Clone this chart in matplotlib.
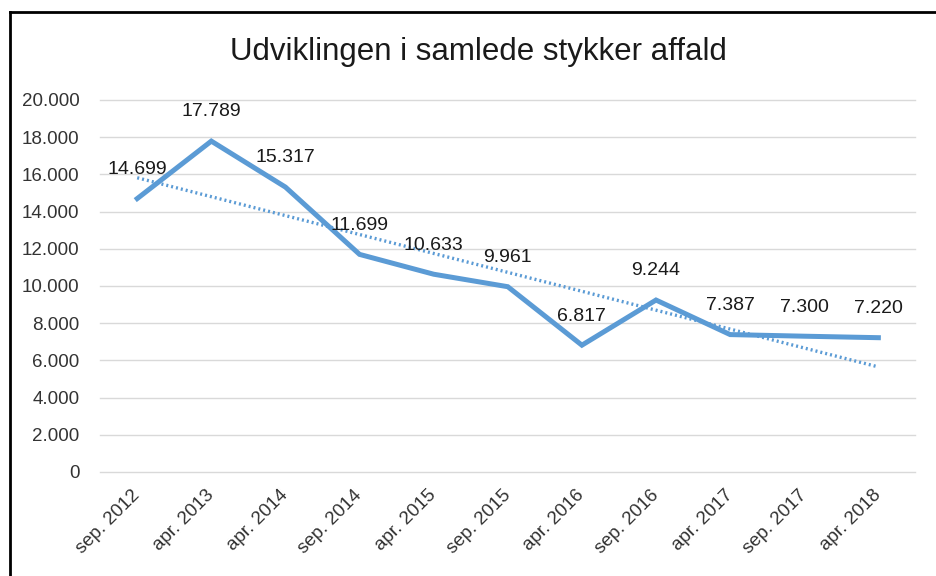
"""
Udviklingen i samlede stykker affald - line chart with linear trendline.
Saves: out.png
"""

import matplotlib.pyplot as plt
import numpy as np
from matplotlib.lines import Line2D
from matplotlib.ticker import FuncFormatter

periods = ["sep. 2012", "apr. 2013", "apr. 2014", "sep. 2014", "apr. 2015",
           "sep. 2015", "apr. 2016", "sep. 2016", "apr. 2017", "sep. 2017",
           "apr. 2018"]
pieces = [14699, 17789, 15317, 11699, 10633, 9961, 6817, 9244, 7387, 7300, 7220]

BLUE = "#5B9BD5"
plt.rcParams["font.family"] = ["Liberation Sans", "DejaVu Sans"]


def dk_thousands(v, _pos=None):
    return f"{int(round(v)):,}".replace(",", ".")


def main():
    fig = plt.figure(figsize=(9.36, 5.76), dpi=100)
    ax = fig.add_axes([0.107, 0.1806, 0.871, 0.6458])

    x = np.arange(len(periods))
    ax.plot(x, pieces, color=BLUE, lw=3.6, solid_joinstyle="miter", zorder=3)

    # linear trendline, like Excel's
    k, m = np.polyfit(x, pieces, 1)
    ax.plot(x, k * x + m, color=BLUE, lw=2.4, ls=(0, (0.6, 0.9)), zorder=2)

    for xi, v in zip(x, pieces):
        ax.annotate(dk_thousands(v), (xi, v), xytext=(0, 21), textcoords="offset points",
                    ha="center", va="center", fontsize=14, color="#1a1a1a", zorder=4)

    ax.set_xlim(-0.5, len(periods) - 0.5)
    ax.set_ylim(0, 20000)
    ax.set_yticks(range(0, 20001, 2000))
    ax.yaxis.set_major_formatter(FuncFormatter(dk_thousands))
    ax.set_xticks(x)
    ax.set_xticklabels(periods, rotation=45, ha="right", va="center", rotation_mode="anchor")
    ax.tick_params(axis="both", length=0, labelsize=13.5, labelcolor="#333333")
    ax.tick_params(axis="x", pad=15)
    ax.tick_params(axis="y", pad=15)
    ax.grid(axis="y", color="#D9D9D9", lw=1)
    for gl in ax.get_ygridlines():
        gl.set_clip_on(False)
    ax.set_axisbelow(True)
    for s in ax.spines.values():
        s.set_visible(False)

    fig.text(0.511, 0.91, "Udviklingen i samlede stykker affald", ha="center", va="center",
             fontsize=22.5, color="#1a1a1a")

    # black frame on the left and top edge, as in the screenshot
    fig.add_artist(Line2D([0.011, 0.011], [0, 0.979], color="black", lw=2, transform=fig.transFigure))
    fig.add_artist(Line2D([0.011, 1], [0.979, 0.979], color="black", lw=2, transform=fig.transFigure))

    fig.savefig("out.png", dpi=100, facecolor="white")
    plt.close(fig)


if __name__ == "__main__":
    main()
